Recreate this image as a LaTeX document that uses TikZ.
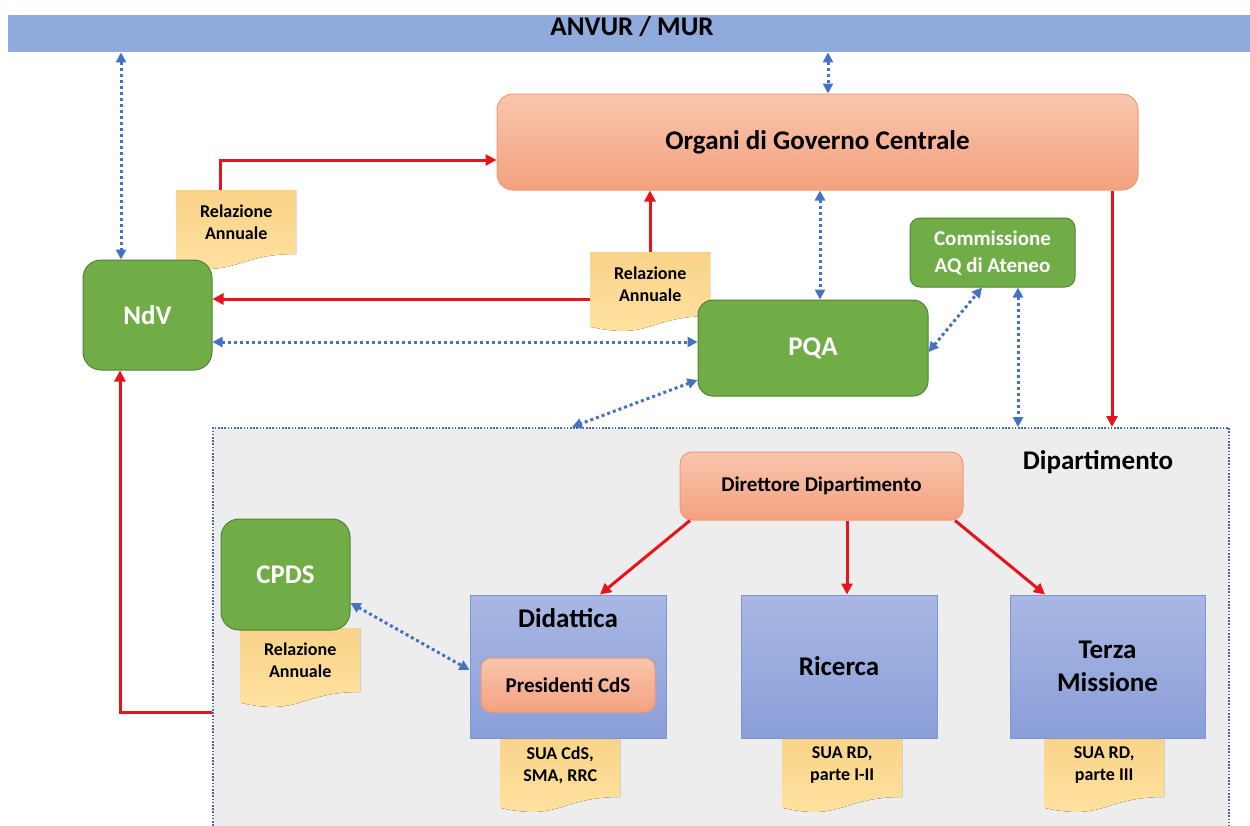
\documentclass[tikz,border=0pt]{standalone}
\usepackage{fontspec}
\setmainfont{Carlito}
\usetikzlibrary{arrows.meta}
\definecolor{anvurc}{HTML}{8FAADC}
\definecolor{greenc}{HTML}{70AD47}
\definecolor{greenb}{HTML}{548235}
\definecolor{salA}{HTML}{F9C6AE}
\definecolor{salB}{HTML}{F3A17F}
\definecolor{salD}{HTML}{EE9B79}
\definecolor{bluA}{HTML}{A9B7E3}
\definecolor{bluB}{HTML}{8A9ED8}
\definecolor{bluD}{HTML}{7E95D2}
\definecolor{docA}{HTML}{F9D388}
\definecolor{docB}{HTML}{FFE3A2}
\definecolor{greyc}{HTML}{EDEDED}
\definecolor{dotc}{HTML}{4472C4}
\definecolor{redc}{HTML}{E8141B}
\definecolor{dipd}{HTML}{4A69AD}
\newcommand{\bigf}{\fontsize{27}{33}\selectfont\bfseries}
\newcommand{\midf}{\fontsize{21}{27}\selectfont\bfseries}
\newcommand{\smf}{\fontsize{18}{22}\selectfont\bfseries}
\newcommand{\docshape}[5]{%
  \fill[top color=docA, bottom color=docB] (#2,#3) -- ({#2+#4},#3) -- ({#2+#4},{#3+64}) .. controls ({#2+#4/2},{#3+64}) and ({#2+#4/2},{#3+88.5}) .. (#2,{#3+74.7}) -- cycle;
  \node[doctext, minimum width=#4, minimum height=64, anchor=north west] (#1) at (#2,#3) {#5};
}
\begin{document}
\begin{tikzpicture}[x=1pt,y=-1pt,
  doctext/.style={inner sep=0, align=center, font=\smf},
  greenbox/.style={rectangle, fill=greenc, draw=greenb, line width=1pt, text=white, font=\bigf, align=center},
  salbox/.style={rectangle, top color=salA, bottom color=salB, draw=salD, line width=1pt, align=center},
  bluebox/.style={rectangle, top color=bluA, bottom color=bluB, draw=bluD, line width=1pt},
  bluearr/.style={draw=dotc, line width=3pt, dash pattern=on 3pt off 3pt, <->, >={Triangle[length=10pt,width=10pt]}},
  redarr/.style={draw=redc, line width=3pt, ->, >={Triangle[length=11pt,width=11pt]}},
  lbl/.style={font=\bigf, align=center, inner sep=0}
]
\useasboundingbox (0,0) rectangle (1250,825);
\fill[white] (0,0) rectangle (1250,825);

% top bar
\node[fill=anvurc, minimum width=1242, minimum height=37, anchor=north west, inner sep=0] (anvur) at (8,15) {};
\node[lbl] (anvurtxt) at (632,27) {ANVUR / MUR};

% department area
\node[fill=greyc, draw=dipd, line width=1.6pt, dash pattern=on 1.6pt off 1.6pt, minimum width=1016, minimum height=410, anchor=north west, inner sep=0] (dip) at (212,427) {};
\node[lbl] (diptxt) at (1098,462) {Dipartimento};

% documents
\docshape{doca}{176}{190}{120}{Relazione\\Annuale}
\docshape{docb}{590}{252}{120}{Relazione\\Annuale}
\docshape{docc}{240}{628}{120}{Relazione\\Annuale}
\docshape{docsua}{500}{733}{120}{SUA CdS,\\SMA, RRC}
\docshape{docric}{782}{733}{120}{SUA RD,\\parte I-II}
\docshape{docter}{1044}{733}{120}{SUA RD,\\parte III}

% boxes
\node[salbox, rounded corners=16pt, minimum width=641, minimum height=96, font=\bigf] (org) at (817.5,142) {Organi di Governo Centrale};
\node[greenbox, rounded corners=18pt, minimum width=129, minimum height=110] (ndv) at (147.5,315) {NdV};
\node[greenbox, rounded corners=10pt, minimum width=165, minimum height=69, font=\midf] (com) at (992.5,252.5) {Commissione\\AQ di Ateneo};
\node[greenbox, rounded corners=15pt, minimum width=230, minimum height=96] (pqa) at (813,348) {PQA};
\node[salbox, rounded corners=12pt, minimum width=283, minimum height=68, font=\midf] (dir) at (821.5,486) {Direttore Dipartimento};
\node[greenbox, rounded corners=18pt, minimum width=129, minimum height=111] (cpds) at (285.5,574.5) {CPDS};
\node[bluebox, minimum width=196, minimum height=143] (did) at (568,666.5) {};
\node[lbl] (didtxt) at (568,618) {Didattica};
\node[salbox, rounded corners=10pt, minimum width=174, minimum height=54, font=\midf] (pres) at (568,685) {Presidenti CdS};
\node[bluebox, minimum width=196, minimum height=143, font=\bigf] (ric) at (839,666.5) {Ricerca};
\node[bluebox, minimum width=195, minimum height=143, font=\bigf, align=center] (ter) at (1107.5,666.5) {Terza\\Missione};

% helper coordinates
\coordinate (x121) at (121,0);
\coordinate (x828) at (828,0);
\coordinate (p160) at (220,160);
\coordinate (x650) at (650,0);
\coordinate (y299) at (0,299);
\coordinate (y342) at (0,342);
\coordinate (x820) at (820,0);
\coordinate (x982) at (982,0);
\coordinate (y352) at (0,352);
\coordinate (x1018) at (1018,0);
\coordinate (y380) at (0,380);
\coordinate (x572) at (572,0);
\coordinate (x1112) at (1112,0);
\coordinate (y712) at (0,712);
\coordinate (x120) at (120,0);
\coordinate (x690) at (690,0);
\coordinate (x600) at (600,0);
\coordinate (x847) at (847,0);
\coordinate (x955) at (955,0);
\coordinate (x1045) at (1045,0);
\coordinate (y603) at (0,603);
\coordinate (y670) at (0,670);

% blue dotted connectors
\draw[bluearr] (x121 |- anvur.south) -- (x121 |- ndv.north);
\draw[bluearr] (x828 |- anvur.south) -- (x828 |- org.north);
\draw[bluearr] (ndv.east |- y342) -- (pqa.west |- y342);
\draw[bluearr] (x820 |- org.south) -- (x820 |- pqa.north);
\draw[bluearr] (pqa.east |- y352) -- (x982 |- com.south);
\draw[bluearr] (x1018 |- com.south) -- (x1018 |- dip.north);
\draw[bluearr] (pqa.west |- y380) -- (x572 |- dip.north);
\draw[bluearr] (cpds.east |- y603) -- (did.west |- y670);

% red connectors
\draw[redarr] (doca.north -| p160) |- (org.west |- p160);
\draw[redarr] (x650 |- docb.north) -- (x650 |- org.south);
\draw[redarr] (docb.west |- y299) -- (ndv.east |- y299);
\draw[redarr] (x1112 |- org.south) -- (x1112 |- dip.north);
\draw[redarr] (dip.west |- y712) -| (x120 |- ndv.south);
\draw[redarr] (x690 |- dir.south) -- (x600 |- did.north);
\draw[redarr] (x847 |- dir.south) -- (x847 |- ric.north);
\draw[redarr] (x955 |- dir.south) -- (x1045 |- ter.north);
\end{tikzpicture}
\end{document}
